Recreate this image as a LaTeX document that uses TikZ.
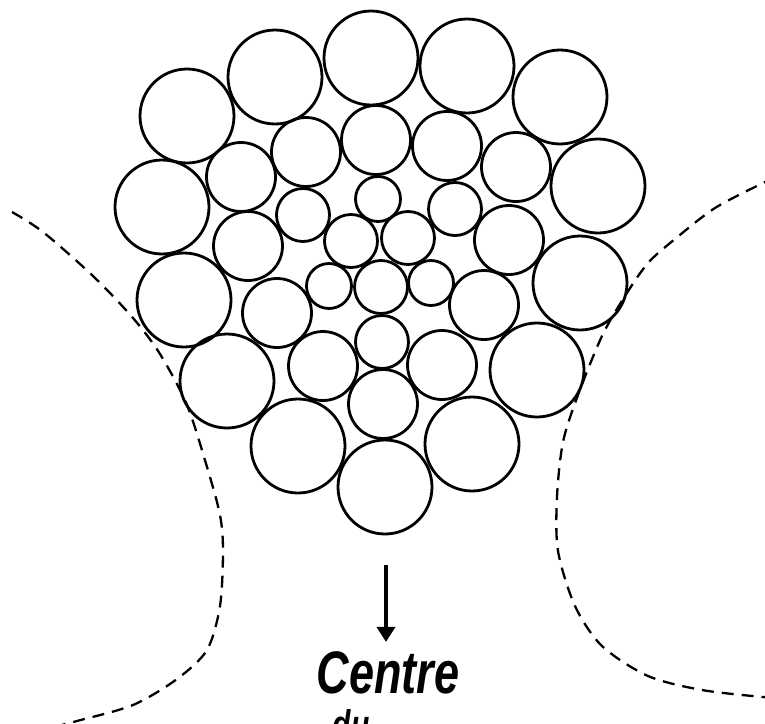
\documentclass[tikz,border=0pt]{standalone}
\usepackage{fontspec}
\usetikzlibrary{arrows.meta}
\newfontfamily\captionfont{Liberation Sans}

\begin{document}
\begin{tikzpicture}[x=1pt,y=-1pt,>={Triangle[width=18pt,length=15pt]},
 ball/.style={draw,circle,line width=2.8pt,inner sep=0pt},
 big/.style={ball,minimum size=94pt},
 mid/.style={ball,minimum size=69pt},
 sml/.style={ball,minimum size=53pt},
 tiny/.style={ball,minimum size=45pt},
 flow/.style={line width=2.3pt,dash pattern=on 12pt off 8pt},
 lbl/.style={inner sep=0pt,xscale=.75,font=\captionfont\bfseries\itshape\fontsize{#1}{#1}\selectfont}]
\useasboundingbox (0,0) rectangle (765,723);
\clip (0,0) rectangle (765,723);
\draw[flow] plot[smooth] coordinates {(12,212) (43,232) (93,276) (133,318) (160,354) (187,405)
 (207,467) (220,515) (223,551) (220,606) (207,650) (177,679) (133,705) (77,721) (50,728)};
\draw[flow] plot[smooth] coordinates {(775,178) (763,183) (715,208) (675,239) (648,263) (625,296)
 (602,336) (578,395) (563,442) (557,497) (558,551) (575,606) (602,646) (648,676) (702,690) (763,697) (775,697)};
\node[big] (c1) at (187,116) {};
\node[big] (c2) at (275,77) {};
\node[big] (c3) at (371,58) {};
\node[big] (c4) at (467,66) {};
\node[big] (c5) at (560,97) {};
\node[big] (c6) at (162,207) {};
\node[mid] (c7) at (241,177) {};
\node[mid] (c8) at (306,152) {};
\node[mid] (c9) at (376,140) {};
\node[mid] (c10) at (447,146) {};
\node[mid] (c11) at (516,167) {};
\node[big] (c12) at (598,186) {};
\node[sml] (c13) at (303,215) {};
\node[tiny] (c14) at (378,199) {};
\node[sml] (c15) at (455,209) {};
\node[mid] (c16) at (248,246) {};
\node[sml] (c17) at (351,241) {};
\node[sml] (c18) at (408,238) {};
\node[mid] (c19) at (509,240) {};
\node[big] (c20) at (184,300) {};
\node[mid] (c21) at (277,313) {};
\node[tiny] (c22) at (329,286) {};
\node[sml] (c23) at (381,287) {};
\node[tiny] (c24) at (431,283) {};
\node[mid] (c25) at (484,305) {};
\node[big] (c26) at (580,283) {};
\node[big] (c27) at (227,381) {};
\node[mid] (c28) at (323,366) {};
\node[sml] (c29) at (382,342) {};
\node[mid] (c30) at (442,365) {};
\node[big] (c31) at (537,370) {};
\node[big] (c32) at (298,446) {};
\node[mid] (c33) at (383,404) {};
\node[big] (c34) at (472,444) {};
\node[big] (c35) at (385,487) {};
\node[lbl=60,anchor=base] (centre) at (388,693) {Centre};
\node[lbl=40,anchor=base] (du) at (351,738) {du};
\coordinate (tail) at (386,565);
\draw[->,line width=4pt,shorten >=9pt] (tail) -- (tail |- centre.north);
\end{tikzpicture}
\end{document}
